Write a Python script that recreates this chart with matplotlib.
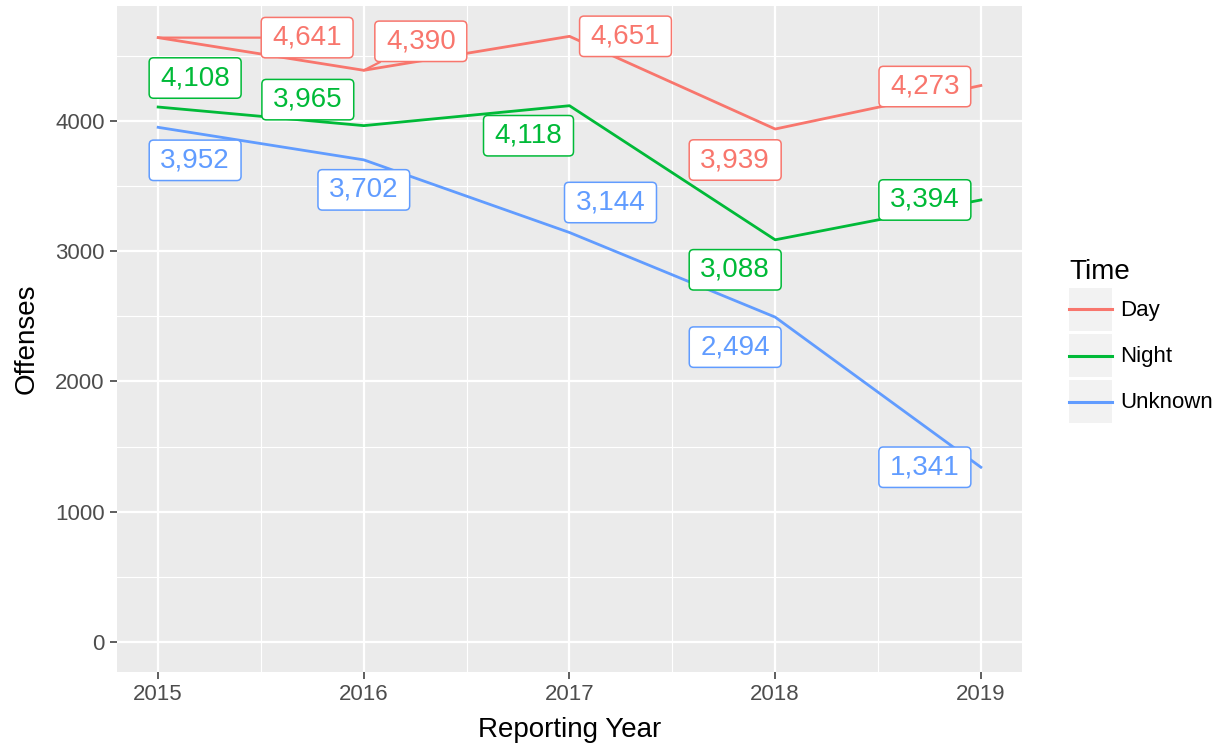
import numpy as np
import matplotlib.pyplot as plt
from matplotlib.path import Path
from matplotlib.lines import Line2D
from matplotlib.patches import Rectangle
from matplotlib.legend_handler import HandlerTuple, HandlerLine2D

plt.rcParams['font.family'] = ['Liberation Sans', 'DejaVu Sans']

YEARS = [2015, 2016, 2017, 2018, 2019]
DAY = [4641, 4390, 4651, 3939, 4273]
NIGHT = [4108, 3965, 4118, 3088, 3394]
UNKNOWN = [3952, 3702, 3144, 2494, 1341]
SERIES = ['Day', 'Night', 'Unknown']
COLZ = ['#F8766D', '#00BA38', '#619CFF']

# where the repelled labels ended up, pixels from their point (x right, y down)
NUDGE = {
    'Day': [(149, 0), (57, -29), (56, 0), (-40, 31), (-56, 1)],
    'Night': [(37, -29), (-56, -26), (-41, 30), (-40, 30), (-56, 0)],
    'Unknown': [(37, 33), (0, 30), (41, -30), (-40, 30), (-56, 0)],
}
SEGMENTS = [('Day', 0), ('Day', 1)]


def label_box(x0, y0, width, height, mutation_size):
    # rounded box like geom_label, wider than it is tall
    px, py, r = 0.40 * mutation_size, 0.26 * mutation_size, 0.16 * mutation_size
    x0, y0 = x0 - px, y0 - py
    x1, y1 = x0 + width + 2 * px, y0 + height + 2 * py
    verts = [(x0 + r, y0), (x1 - r, y0), (x1, y0), (x1, y0 + r),
             (x1, y1 - r), (x1, y1), (x1 - r, y1), (x0 + r, y1),
             (x0, y1), (x0, y1 - r), (x0, y0 + r), (x0, y0),
             (x0 + r, y0), (x0 + r, y0)]
    codes = [Path.MOVETO, Path.LINETO, Path.CURVE3, Path.CURVE3,
             Path.LINETO, Path.CURVE3, Path.CURVE3, Path.LINETO,
             Path.CURVE3, Path.CURVE3, Path.LINETO, Path.CURVE3,
             Path.CURVE3, Path.CLOSEPOLY]
    return Path(verts, codes)


class CentredLine(HandlerLine2D):
    # keep the key line in the middle of the grey key box, a bit inset
    def create_artists(self, legend, orig, xdescent, ydescent, width, height,
                       fontsize, trans):
        arts = super().create_artists(legend, orig, xdescent, ydescent, width,
                                      height, fontsize, trans)
        for a in arts:
            a.set_ydata(np.asarray(a.get_ydata()) - ydescent / 2)
            xd = np.asarray(a.get_xdata(), dtype=float)
            if xd.size == 2:
                a.set_xdata([xd[0] + 3, xd[1] - 3])
        return arts


fig = plt.figure(figsize=(12.27, 7.48), dpi=100)
ax = fig.add_axes([117 / 1227, 76 / 748, 905 / 1227, 666 / 748])
ax.set_facecolor('#EBEBEB')
for s in ax.spines.values():
    s.set_visible(False)

ax.set_xlim(2014.8, 2019.2)
ax.set_ylim(-232, 4884)
ax.set_xticks(YEARS)
ax.set_xticks([2015.5, 2016.5, 2017.5, 2018.5], minor=True)
ax.set_yticks([0, 1000, 2000, 3000, 4000])
ax.set_yticks([500, 1500, 2500, 3500, 4500], minor=True)
ax.grid(which='major', color='white', lw=1.6)
ax.grid(which='minor', color='white', lw=0.8)
ax.set_axisbelow(True)
ax.tick_params(which='major', length=5, width=1.1, color='#333333',
               labelsize=16, labelcolor='#4D4D4D', pad=4)
ax.tick_params(which='minor', length=0)

ax.set_xlabel('Reporting Year', fontsize=20, labelpad=8)
ax.set_ylabel('Offenses', fontsize=20, labelpad=11)

data = dict(zip(SERIES, [DAY, NIGHT, UNKNOWN]))
handles = []
for name, col in zip(SERIES, COLZ):
    vals = data[name]
    ax.plot(YEARS, vals, color=col, lw=2, zorder=2)
    for i, (yr, v) in enumerate(zip(YEARS, vals)):
        dx, dy = NUDGE[name][i]
        arrow = None
        if (name, i) in SEGMENTS:
            arrow = dict(arrowstyle='-', color=col, lw=1.6, shrinkA=0, shrinkB=0)
        ax.annotate('{:,}'.format(v), xy=(yr, v), xytext=(dx, -dy),
                    textcoords='offset pixels', ha='center', va='center',
                    fontsize=20, color=col, zorder=4, annotation_clip=False,
                    arrowprops=arrow,
                    bbox=dict(boxstyle=label_box, fc='white', ec=col, lw=1.1))
    handles.append((Rectangle((0, 0), 1, 1, fc='#F2F2F2', ec='none'),
                    Line2D([], [], color=col, lw=2.2)))

leg = fig.legend(handles, SERIES,
                 handler_map={tuple: HandlerTuple(ndivide=1, pad=0),
                              Line2D: CentredLine()},
                 loc='center left', bbox_to_anchor=(1069 / 1227, 1 - 341 / 748),
                 frameon=False, fontsize=16, title='Time', title_fontsize=20,
                 alignment='left', handlelength=1.94, handleheight=2.6,
                 labelspacing=0.14, handletextpad=0.36, borderpad=0,
                 borderaxespad=0)

fig.savefig('out.png', dpi=100)
